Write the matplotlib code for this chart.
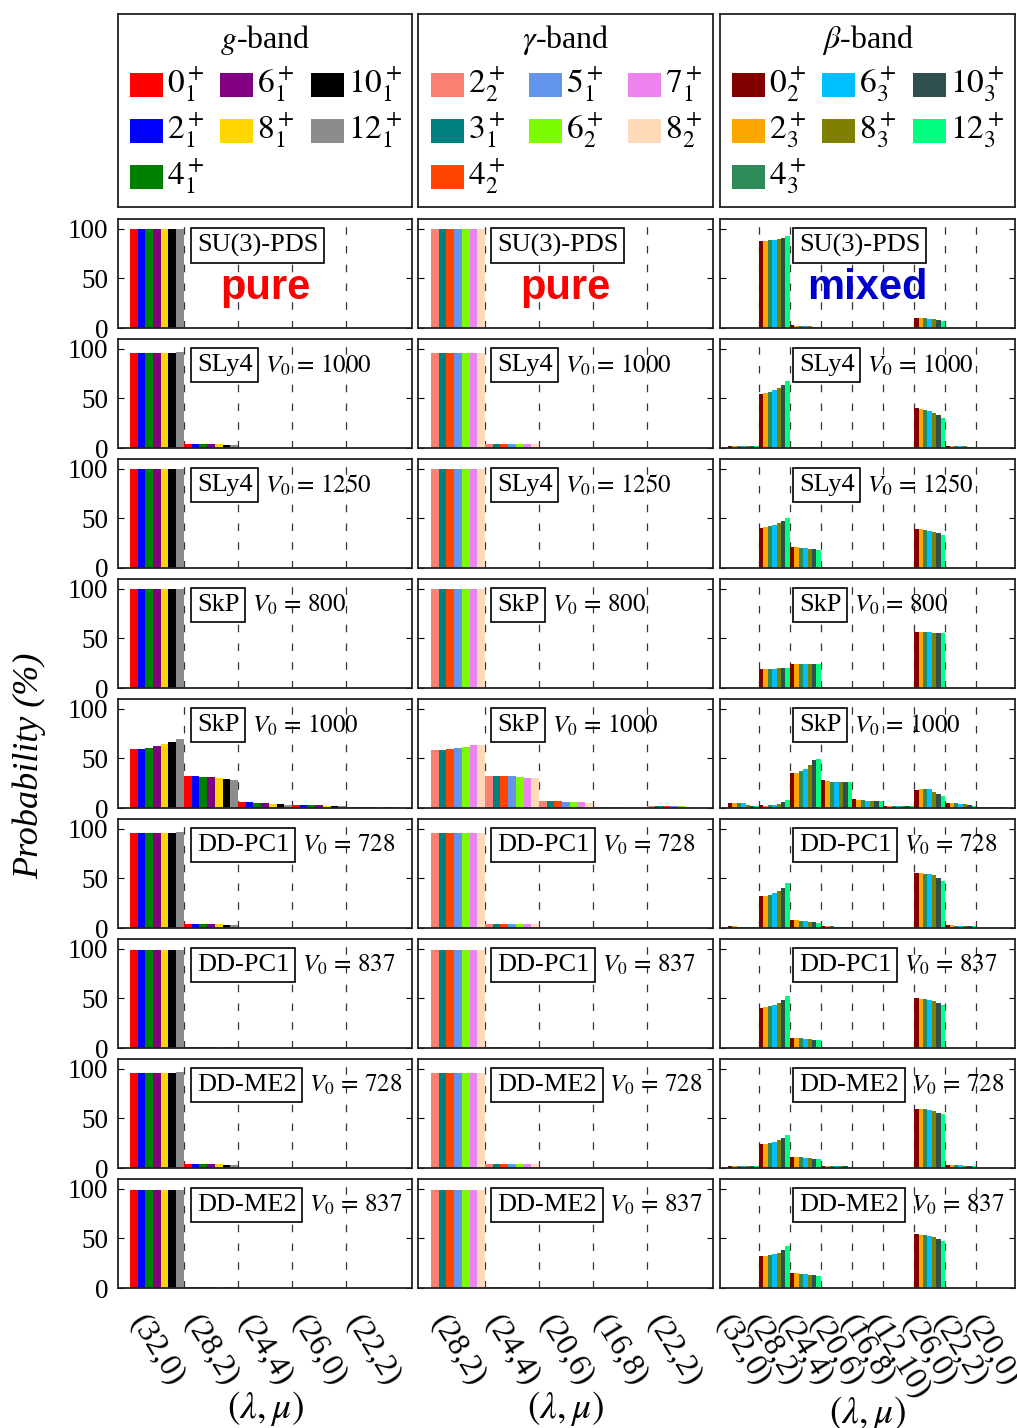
import numpy as np
import matplotlib.pyplot as plt
from matplotlib.patches import Rectangle

plt.rcParams['font.family'] = 'Liberation Serif'
plt.rcParams['mathtext.fontset'] = 'stix'

# SU(3) irreps on each x axis
g_irreps = ["(32,0)", "(28,2)", "(24,4)", "(26,0)", "(22,2)"]
gam_irreps = ["(28,2)", "(24,4)", "(20,6)", "(16,8)", "(22,2)"]
beta_irreps = ["(32,0)", "(28,2)", "(24,4)", "(20,6)", "(16,8)", "(12,10)",
               "(26,0)", "(22,2)", "(20,0)"]

# band members and colours
g_states = [r"$0_1^+$", r"$2_1^+$", r"$4_1^+$", r"$6_1^+$", r"$8_1^+$", r"$10_1^+$", r"$12_1^+$"]
g_colors = ["#ff0000", "#0000ff", "#008000", "#800080", "#ffd700", "#000000", "#8c8c8c"]
gam_states = [r"$2_2^+$", r"$3_1^+$", r"$4_2^+$", r"$5_1^+$", r"$6_2^+$", r"$7_1^+$", r"$8_2^+$"]
gam_colors = ["#fa8072", "#008080", "#ff4500", "#6495ed", "#7cfc00", "#ee82ee", "#ffdab9"]
beta_states = [r"$0_2^+$", r"$2_3^+$", r"$4_3^+$", r"$6_3^+$", r"$8_3^+$", r"$10_3^+$", r"$12_3^+$"]
beta_colors = ["#800000", "#ffa500", "#2e8b57", "#00bfff", "#808000", "#2f4f4f", "#00ff7f"]

models = ["SU(3)-PDS", "SLy4", "SLy4", "SkP", "SkP", "DD-PC1", "DD-PC1", "DD-ME2", "DD-ME2"]
v0 = [None, 1000, 1250, 800, 1000, 728, 837, 728, 837]

# probabilities (%) per irrep (rows) and state (columns)
g_pds = [[100, 100, 100, 100, 100, 100, 100],
         [0, 0, 0, 0, 0, 0, 0],
         [0, 0, 0, 0, 0, 0, 0],
         [0, 0, 0, 0, 0, 0, 0],
         [0, 0, 0, 0, 0, 0, 0]]
g_sly4_1000 = [[96, 96, 96, 96, 96, 96, 96.5],
               [4, 4, 4, 4, 3.8, 3.5, 3],
               [0.2, 0.2, 0.2, 0.2, 0.2, 0.2, 0.2],
               [0, 0, 0, 0, 0, 0, 0],
               [0, 0, 0, 0, 0, 0, 0]]
g_sly4_1250 = [[99.5, 99.5, 99.5, 99.5, 99.5, 99.5, 99.5],
               [0.5, 0.5, 0.5, 0.5, 0.5, 0.5, 0.5],
               [0, 0, 0, 0, 0, 0, 0],
               [0, 0, 0, 0, 0, 0, 0],
               [0, 0, 0, 0, 0, 0, 0]]
g_skp_800 = [[99.5, 99.5, 99.5, 99.5, 99.5, 99.5, 99.5],
             [0.3, 0.3, 0.3, 0.3, 0.3, 0.3, 0.3],
             [0, 0, 0, 0, 0, 0, 0],
             [0, 0, 0, 0, 0, 0, 0],
             [0, 0, 0, 0, 0, 0, 0]]
g_skp_1000 = [[60, 60, 61, 62.5, 64.5, 67, 69.5],
              [32, 32, 31.5, 31, 30.5, 29.5, 28],
              [6, 6, 5.5, 5.5, 4.5, 4.5, 3.5],
              [3.5, 3.5, 3, 3, 2.5, 2.5, 2],
              [1, 1, 1, 1, 1, 1.5, 1.5]]
g_pc1_728 = [[96, 96, 96, 96, 96, 96, 96.5],
             [4, 4, 4, 4, 3.8, 3.5, 3],
             [0, 0, 0, 0, 0, 0, 0],
             [0, 0, 0, 0, 0, 0, 0],
             [0, 0, 0, 0, 0, 0, 0]]
g_pc1_837 = [[99, 99, 99, 99, 99, 99, 99],
             [1, 1, 1, 1, 1, 1, 1],
             [0, 0, 0, 0, 0, 0, 0],
             [0, 0, 0, 0, 0, 0, 0],
             [0, 0, 0, 0, 0, 0, 0]]
g_me2_728 = [[96, 96, 96, 96, 96, 96, 96.5],
             [4, 4, 4, 4, 3.8, 3.5, 3.5],
             [0.2, 0.2, 0.2, 0.2, 0.2, 0.2, 0.2],
             [0, 0, 0, 0, 0, 0, 0],
             [0, 0, 0, 0, 0, 0, 0]]
g_me2_837 = [[99, 99, 99, 99, 99, 99, 99],
             [0.8, 0.8, 0.8, 0.8, 0.8, 0.8, 0.8],
             [0, 0, 0, 0, 0, 0, 0],
             [0, 0, 0, 0, 0, 0, 0],
             [0, 0, 0, 0, 0, 0, 0]]

gam_pds = [[100, 100, 100, 100, 100, 100, 100],
           [0, 0, 0, 0, 0, 0, 0],
           [0, 0, 0, 0, 0, 0, 0],
           [0, 0, 0, 0, 0, 0, 0],
           [0, 0, 0, 0, 0, 0, 0]]
gam_sly4_1000 = [[96, 96, 96, 96, 96, 96, 96],
                 [4, 4, 4, 4, 4, 4, 3.8],
                 [0, 0, 0, 0, 0, 0, 0],
                 [0, 0, 0, 0, 0, 0, 0],
                 [0, 0, 0, 0, 0, 0, 0]]
gam_sly4_1250 = [[99.5, 99.5, 99.5, 99.5, 99.5, 99.5, 99.5],
                 [0.5, 0.5, 0.5, 0.5, 0.5, 0.5, 0.5],
                 [0, 0, 0, 0, 0, 0, 0],
                 [0, 0, 0, 0, 0, 0, 0],
                 [0, 0, 0, 0, 0, 0, 0]]
gam_skp_800 = [[99.5, 99.5, 99.5, 99.5, 99.5, 99.5, 99.5],
               [0.3, 0.3, 0.3, 0.3, 0.3, 0.3, 0.3],
               [0, 0, 0, 0, 0, 0, 0],
               [0, 0, 0, 0, 0, 0, 0],
               [0, 0, 0, 0, 0, 0, 0]]
gam_skp_1000 = [[59, 59, 60, 61, 62, 64, 64],
                [32.5, 32.5, 32, 32, 31, 30.5, 30],
                [7, 7, 7, 6.5, 6, 6, 5],
                [1, 1, 1, 1, 1, 1, 1],
                [2, 2, 2, 2, 2, 1.5, 1.5]]
gam_pc1_728 = [[96, 96, 96, 96, 96, 96, 96],
               [4, 4, 4, 4, 4, 4, 3.8],
               [0, 0, 0, 0, 0, 0, 0],
               [0, 0, 0, 0, 0, 0, 0],
               [0, 0, 0, 0, 0, 0, 0]]
gam_pc1_837 = [[99, 99, 99, 99, 99, 99, 99],
               [1, 1, 1, 1, 1, 1, 1],
               [0, 0, 0, 0, 0, 0, 0],
               [0, 0, 0, 0, 0, 0, 0],
               [0, 0, 0, 0, 0, 0, 0]]
gam_me2_728 = [[96, 96, 96, 96, 96, 96, 96],
               [4, 4, 4, 4, 4, 4, 3.8],
               [0, 0, 0, 0, 0, 0, 0],
               [0, 0, 0, 0, 0, 0, 0],
               [0, 0, 0, 0, 0, 0, 0]]
gam_me2_837 = [[99, 99, 99, 99, 99, 99, 99],
               [0.8, 0.8, 0.8, 0.8, 0.8, 0.8, 0.8],
               [0, 0, 0, 0, 0, 0, 0],
               [0, 0, 0, 0, 0, 0, 0],
               [0, 0, 0, 0, 0, 0, 0]]

beta_pds = [[0, 0, 0, 0, 0, 0, 0],
            [88, 88, 88.5, 89, 90, 91, 93],
            [3, 2.5, 2, 2, 2, 1.5, 1],
            [0, 0, 0, 0, 0, 0, 0],
            [0, 0, 0, 0, 0, 0, 0],
            [0, 0, 0, 0, 0, 0, 0],
            [10, 10, 10, 9.5, 9, 8, 7],
            [0, 0, 0, 0, 0, 0, 0],
            [0, 0, 0, 0, 0, 0, 0]]
beta_sly4_1000 = [[2, 2, 2, 2, 2, 2, 2],
                  [55, 56, 57, 59, 61, 64, 68],
                  [1, 1, 1, 1, 1, 0.8, 0.6],
                  [0, 0, 0, 0, 0, 0, 0],
                  [0, 0, 0, 0, 0, 0, 0],
                  [0, 0, 0, 0, 0, 0, 0],
                  [40, 39, 38, 37, 35, 33, 30],
                  [2, 2, 2, 1.8, 1.6, 1.4, 1.2],
                  [0, 0, 0, 0, 0, 0, 0]]
beta_sly4_1250 = [[0, 0, 0, 0, 0, 0, 0],
                  [40, 41, 42, 43, 45, 47, 50],
                  [21, 21, 20.5, 20, 19.5, 19, 18],
                  [0, 0, 0, 0, 0, 0, 0],
                  [0, 0, 0, 0, 0, 0, 0],
                  [0, 0, 0, 0, 0, 0, 0],
                  [39, 39, 38.5, 37.5, 36, 35, 33],
                  [0, 0, 0, 0, 0, 0, 0],
                  [0, 0, 0, 0, 0, 0, 0]]
beta_skp_800 = [[0, 0, 0, 0, 0, 0, 0],
                [19, 19, 19, 19.5, 20, 20, 20.5],
                [24, 24, 24, 24, 24, 24, 24],
                [0, 0, 0, 0, 0, 0, 0],
                [0, 0, 0, 0, 0, 0, 0],
                [0, 0, 0, 0, 0, 0, 0],
                [57, 57, 57, 56.5, 56, 56, 55.5],
                [0, 0, 0, 0, 0, 0, 0],
                [0, 0, 0, 0, 0, 0, 0]]
beta_skp_1000 = [[5.5, 5.5, 5.5, 5, 3.5, 2.5, 2],
                 [2.7, 2.3, 2.7, 3.4, 4.4, 5.7, 7.7],
                 [35.7, 35.7, 37, 39.7, 43.8, 48, 49.5],
                 [28, 27, 26, 26, 26, 26, 26],
                 [9, 8.4, 7.7, 7.4, 7, 6.7, 6.7],
                 [2.4, 2, 2, 2, 2, 2, 2],
                 [18.5, 19, 19.5, 19.5, 16.5, 14, 12],
                 [5, 4.7, 4.7, 4.4, 3.7, 3, 2.4],
                 [1, 1, 1, 1, 1, 1, 1]]
beta_pc1_728 = [[2, 2, 1.5, 1.5, 1.5, 1.5, 1.5],
                [32.3, 32.3, 33.3, 35, 37.4, 40.7, 45.8],
                [8, 7.7, 7.4, 7, 6.4, 5.7, 4.7],
                [2, 2, 1.7, 1.5, 1.5, 1.2, 1],
                [0, 0, 0, 0, 0, 0, 0],
                [0, 0, 0, 0, 0, 0, 0],
                [56, 55.5, 55, 54.5, 53, 50, 47],
                [2.7, 2.7, 2.5, 2.5, 2.3, 2, 2],
                [0, 0, 0, 0, 0, 0, 0]]
beta_pc1_837 = [[0, 0, 0, 0, 0, 0, 0],
                [40, 41, 42, 43, 45, 48, 52],
                [10, 10, 10, 9.5, 9, 8.5, 8],
                [0, 0, 0, 0, 0, 0, 0],
                [0, 0, 0, 0, 0, 0, 0],
                [0, 0, 0, 0, 0, 0, 0],
                [50, 49, 49, 48, 47, 45, 43],
                [0, 0, 0, 0, 0, 0, 0],
                [0, 0, 0, 0, 0, 0, 0]]
beta_me2_728 = [[2, 2, 2, 2, 2, 2, 2],
                [24, 24, 25, 26, 28, 30, 33],
                [11, 11, 11, 10.5, 10, 9.5, 9],
                [2, 2, 2, 2, 1.8, 1.6, 1.4],
                [0, 0, 0, 0, 0, 0, 0],
                [0, 0, 0, 0, 0, 0, 0],
                [60, 60, 59.5, 59, 58, 56, 54],
                [3, 3, 3, 3, 2.5, 2.5, 2],
                [0, 0, 0, 0, 0, 0, 0]]
beta_me2_837 = [[0, 0, 0, 0, 0, 0, 0],
                [32, 32, 33, 34, 35, 38, 42],
                [15, 15, 14.5, 14, 13.5, 13, 12],
                [0, 0, 0, 0, 0, 0, 0],
                [0, 0, 0, 0, 0, 0, 0],
                [0, 0, 0, 0, 0, 0, 0],
                [54, 53.5, 53, 52, 51, 49, 47],
                [0, 0, 0, 0, 0, 0, 0],
                [0, 0, 0, 0, 0, 0, 0]]

g_rows = [g_pds, g_sly4_1000, g_sly4_1250, g_skp_800, g_skp_1000,
          g_pc1_728, g_pc1_837, g_me2_728, g_me2_837]
gam_rows = [gam_pds, gam_sly4_1000, gam_sly4_1250, gam_skp_800, gam_skp_1000,
            gam_pc1_728, gam_pc1_837, gam_me2_728, gam_me2_837]
beta_rows = [beta_pds, beta_sly4_1000, beta_sly4_1250, beta_skp_800, beta_skp_1000,
             beta_pc1_728, beta_pc1_837, beta_me2_728, beta_me2_837]

bands = [
    (r"$g$-band", g_irreps, g_states, g_colors, g_rows, (-0.72, 4.72), [12, 102, 193]),
    (r"$\gamma$-band", gam_irreps, gam_states, gam_colors, gam_rows, (-0.74, 4.72), [13, 111, 210]),
    (r"$\beta$-band", beta_irreps, beta_states, beta_colors, beta_rows, (-0.75, 8.75), [12, 102, 193]),
]

W, H = 1017, 1428
fig = plt.figure(figsize=(W / 100, H / 100), dpi=100)

col_x = [(118, 294), (418, 295), (720, 295)]


def px_axes(x0, y0, w, h):
    return fig.add_axes([x0 / W, 1 - (y0 + h) / H, w / W, h / H])


for c, (title, irreps, states, colors, rows, xlim, leg_cols) in enumerate(bands):
    x0, w = col_x[c]

    # legend box on top of each column
    lax = px_axes(x0, 14, w, 193)
    lax.set_xlim(0, w)
    lax.set_ylim(193, 0)
    lax.set_xticks([])
    lax.set_yticks([])
    for s in lax.spines.values():
        s.set_linewidth(1.3)
        s.set_color("#222222")
    lax.text(w / 2, 26, title, ha="center", va="center", fontsize=23)
    slots = [(0, 0), (0, 1), (0, 2), (1, 0), (1, 1), (2, 0), (2, 1)]
    row_y = [71, 117, 163]
    for (ci, ri), lab, col in zip(slots, states, colors):
        px = leg_cols[ci]
        lax.add_patch(Rectangle((px, row_y[ri] - 12), 33, 24, color=col, lw=0))
        lax.text(px + 37, row_y[ri], lab, ha="left", va="center", fontsize=24)

    # probability panels
    for r in range(9):
        ax = px_axes(x0, 219 + 120 * r, w, 109)
        vals = np.array(rows[r], dtype=float)
        ng = vals.shape[0]
        base = np.arange(ng)
        for k in range(7):
            ax.bar(base - 0.5 + (k + 0.5) / 7, vals[:, k], width=1 / 7,
                   color=colors[k], linewidth=0, zorder=2)
        for j in range(ng - 1):
            ax.axvline(j + 0.5, color="#333333", lw=0.9, ls=(0, (6, 9)), zorder=1)
        ax.set_xlim(*xlim)
        ax.set_ylim(0, 110)
        ax.set_yticks([0, 50, 100])
        ax.tick_params(axis="y", direction="in", right=True, length=4,
                       labelsize=19.5, pad=7, labelleft=(c == 0))
        ax.tick_params(axis="x", length=0, pad=16)
        ax.set_xticks(base)
        for s in ax.spines.values():
            s.set_linewidth(1.3)
            s.set_color("#222222")

        box = ax.text(0.268, 0.76, models[r], transform=ax.transAxes,
                      ha="left", va="center", fontsize=19,
                      bbox=dict(boxstyle="square,pad=0.22", fc="white",
                                ec="black", lw=1.2), zorder=5)
        if v0[r] is not None:
            ax.annotate(r"$V_0\,=\,%d$" % v0[r], xy=(1, 0.5), xycoords=box,
                        xytext=(9, 0), textcoords="offset points",
                        ha="left", va="center", fontsize=18, zorder=5)
        else:
            word, wc = ("mixed", "#0000cc") if c == 2 else ("pure", "#ff0000")
            ax.text(0.5, 0.37, word, transform=ax.transAxes, ha="center",
                    va="center", fontsize=30, fontweight="bold",
                    family="Liberation Sans", color=wc, zorder=5)

        if r == 8:
            ax.set_xticklabels(irreps, rotation=-58, ha="center", va="top",
                               fontsize=23)
            ax.set_xlabel(r"$(\lambda,\mu)$", fontsize=27, va="top")
            ax.xaxis.set_label_coords(0.5, -0.93 if c < 2 else -0.97)
        else:
            ax.set_xticklabels([])

fig.text(0.029, 0.464, "Probability (%)", rotation=90, ha="center",
         va="center", fontsize=26, fontstyle="italic")

fig.savefig("out.png", dpi=100)
